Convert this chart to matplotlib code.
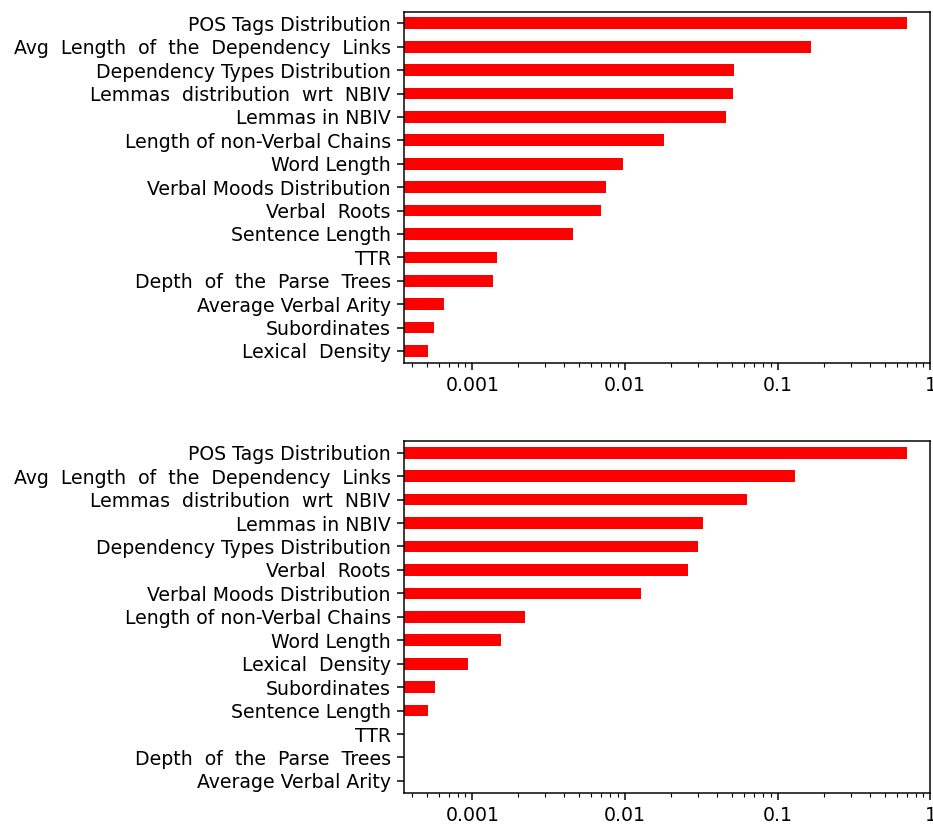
import matplotlib
matplotlib.use('Agg')
import matplotlib.pyplot as plt
import matplotlib.ticker as ticker
import numpy as np

plt.rcParams['font.family'] = 'DejaVu Sans'
plt.rcParams['font.size'] = 10.1

# feature names and importances, ordered top -> bottom as in the chart
names_top = ['POS Tags Distribution', 'Avg  Length  of  the  Dependency  Links',
             'Dependency Types Distribution', 'Lemmas  distribution  wrt  NBIV',
             'Lemmas in NBIV', 'Length of non-Verbal Chains', 'Word Length',
             'Verbal Moods Distribution', 'Verbal  Roots', 'Sentence Length', 'TTR',
             'Depth  of  the  Parse  Trees', 'Average Verbal Arity', 'Subordinates',
             'Lexical  Density']
vals_top = [0.70, 0.166, 0.0517, 0.0509, 0.0458, 0.0179, 0.0097, 0.0075, 0.0070,
            0.00455, 0.00145, 0.00136, 0.00065, 0.00056, 0.000512]

names_bot = ['POS Tags Distribution', 'Avg  Length  of  the  Dependency  Links',
             'Lemmas  distribution  wrt  NBIV', 'Lemmas in NBIV',
             'Dependency Types Distribution', 'Verbal  Roots', 'Verbal Moods Distribution',
             'Length of non-Verbal Chains', 'Word Length', 'Lexical  Density',
             'Subordinates', 'Sentence Length', 'TTR', 'Depth  of  the  Parse  Trees',
             'Average Verbal Arity']
vals_bot = [0.70, 0.130, 0.063, 0.0324, 0.0300, 0.0258, 0.0127, 0.00221, 0.00154,
            0.000937, 0.000569, 0.000512, 0.0, 0.0, 0.0]

dpi = 135
fig = plt.figure(figsize=(933 / dpi, 825 / dpi), dpi=dpi)
ax1 = fig.add_axes([0.433, 0.5604, 0.5643, 0.4255])
ax2 = fig.add_axes([0.433, 0.0392, 0.5643, 0.4263])

for ax, names, vals in [(ax1, names_top, vals_top), (ax2, names_bot, vals_bot)]:
    y = np.arange(len(names))[::-1]
    ax.barh(y, vals, height=0.5, color='red', log=True)
    ax.set_xscale('log')
    ax.set_xlim(3.56e-4, 1.0)
    ax.set_ylim(-0.5, len(names) - 0.5)
    ax.set_yticks(y)
    ax.set_yticklabels(names)
    ax.xaxis.set_major_locator(ticker.FixedLocator([0.001, 0.01, 0.1, 1]))
    ax.xaxis.set_major_formatter(ticker.FormatStrFormatter('%g'))
    ax.xaxis.set_minor_locator(ticker.LogLocator(base=10, subs=np.arange(2, 10)))
    ax.xaxis.set_minor_formatter(ticker.NullFormatter())

fig.savefig('out.png', dpi=dpi)
